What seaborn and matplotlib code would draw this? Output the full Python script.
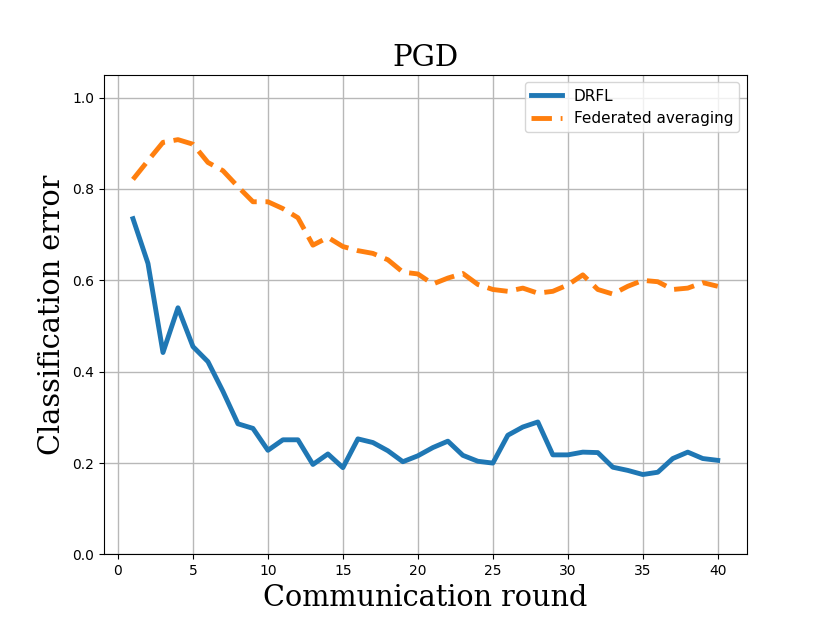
import numpy as np
import pandas as pd
import matplotlib
matplotlib.use("Agg")
import matplotlib.pyplot as plt
import seaborn as sns

# 数据
rounds = list(range(1, 41))
drfl = [0.735, 0.637, 0.442, 0.540, 0.455, 0.422, 0.357, 0.286, 0.276, 0.228,
        0.251, 0.251, 0.197, 0.220, 0.190, 0.253, 0.245, 0.227, 0.203, 0.216,
        0.234, 0.248, 0.217, 0.204, 0.200, 0.261, 0.279, 0.290, 0.218, 0.218,
        0.224, 0.223, 0.191, 0.184, 0.175, 0.180, 0.210, 0.224, 0.210, 0.206]
fedavg = [0.821, 0.862, 0.902, 0.908, 0.898, 0.858, 0.840, 0.805, 0.772, 0.772,
          0.757, 0.737, 0.677, 0.694, 0.674, 0.665, 0.659, 0.645, 0.618, 0.614,
          0.592, 0.605, 0.615, 0.591, 0.580, 0.576, 0.583, 0.572, 0.576, 0.590,
          0.612, 0.580, 0.570, 0.587, 0.600, 0.597, 0.580, 0.583, 0.595, 0.587]

fig, ax = plt.subplots(figsize=(8.3, 6.23), dpi=100)
sns.lineplot(x=rounds, y=drfl, color="#1f77b4", linewidth=3.5,
             label="DRFL", ax=ax)
sns.lineplot(x=rounds, y=fedavg, color="#ff7f0e", linewidth=3.5,
             linestyle=(0, (4.2, 1.8)), label="Federated averaging", ax=ax)
ax.set_ylim(0, 1.05)
ax.set_xticks([0, 5, 10, 15, 20, 25, 30, 35, 40])
ax.set_yticks([0.0, 0.2, 0.4, 0.6, 0.8, 1.0])
ax.grid(True, color="#b8b8b8", linewidth=1)
ax.set_axisbelow(True)
ax.tick_params(labelsize=10)
ax.set_title("PGD", family="DejaVu Serif", fontsize=21)
ax.set_xlabel("Communication round", family="DejaVu Serif", fontsize=20.7)
ax.set_ylabel("Classification error", family="DejaVu Serif", fontsize=20.7)
ax.legend(loc="upper right", fontsize=11)
plt.savefig("out.png", dpi=100)
